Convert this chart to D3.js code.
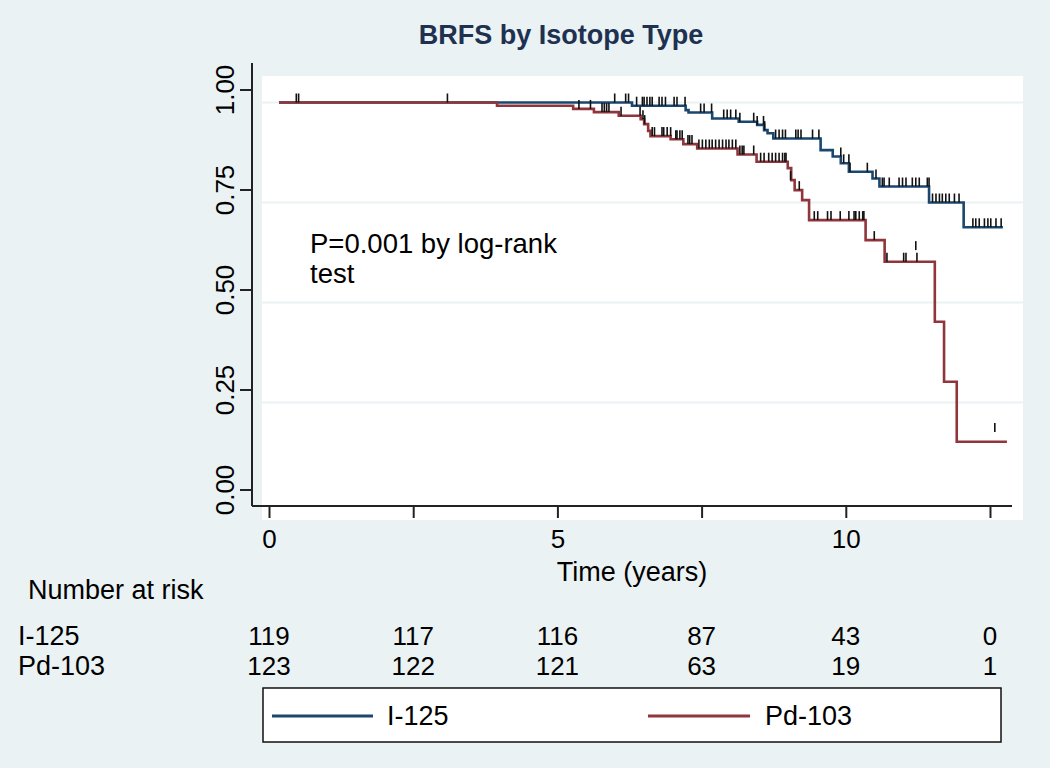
<!DOCTYPE html>
<html><head><meta charset="utf-8">
<script src="https://cdn.jsdelivr.net/npm/d3@7"></script>
<style>
html,body{margin:0;padding:0;background:#eaf2f3;}
text{font-family:"Liberation Sans",Arial,sans-serif;}
</style></head>
<body><svg id="c" width="1050" height="768"></svg>
<script>
// ---------- data ----------
const title = "BRFS by Isotope Type";
const xTicks = [0, 2.5, 5, 7.5, 10, 12.5];
const xTickLabels = ["0", "", "5", "", "10", ""];
const yTicks = [0, 0.25, 0.5, 0.75, 1];
const yTickLabels = ["0.00", "0.25", "0.50", "0.75", "1.00"];
const groups = ["I-125", "Pd-103"];
// step events: [time (years), survival after the drop]
const i125Steps = [[0,1],[6.12,0.992],[7.05,0.981],[7.10,0.975],[7.51,0.960],[7.97,0.952],[8.29,0.944],
  [8.41,0.931],[8.47,0.923],[8.57,0.910],[9.39,0.881],[9.60,0.865],[9.74,0.848],[9.88,0.827],
  [10.29,0.810],[10.41,0.790],[11.27,0.750],[11.87,0.688]];
const i125End = 12.55;
const pd103Steps = [[0,1],[3.78,0.992],[5.10,0.984],[5.46,0.976],[5.89,0.967],[6.27,0.958],[6.33,0.946],
  [6.40,0.929],[6.44,0.916],[6.79,0.908],[7.01,0.896],[7.25,0.885],[7.95,0.870],[8.28,0.852],
  [8.82,0.836],[8.88,0.806],[8.94,0.781],[9.07,0.756],[9.19,0.706],[10.17,0.656],[10.50,0.602],
  [11.37,0.452],[11.53,0.302],[11.75,0.152]];
const pd103End = 12.62;
// censoring marks: [time, survival level]
const i125Censor = [[5.82,1],[6.01,1],[6.06,1],
  [6.20,0.992],[6.30,0.992],[6.33,0.992],[6.38,0.992],[6.43,0.992],[6.47,0.992],[6.59,0.992],[6.64,0.992],[6.70,0.992],[6.85,0.992],[6.90,0.992],[7.04,0.992],
  [7.31,0.975],[7.37,0.975],[7.50,0.975],
  [7.71,0.960],[7.77,0.960],[7.83,0.960],[7.92,0.960],[7.99,0.952],[8.23,0.952],[8.29,0.944],[8.40,0.944],[8.42,0.931],
  [8.61,0.910],[8.67,0.910],[8.73,0.910],[8.78,0.910],[8.96,0.910],[9.00,0.910],[9.05,0.910],[9.25,0.910],[9.36,0.910],
  [9.74,0.865],[9.79,0.848],[9.88,0.848],[9.90,0.827],[10.20,0.827],[10.35,0.810],
  [10.46,0.790],[10.49,0.790],[10.58,0.790],[10.75,0.790],[10.81,0.790],[10.87,0.790],[10.98,0.790],[11.04,0.790],[11.10,0.790],[11.24,0.790],[11.27,0.790],
  [11.33,0.750],[11.39,0.750],[11.45,0.750],[11.50,0.750],[11.56,0.750],[11.62,0.750],[11.71,0.750],[11.79,0.750],
  [12.03,0.688],[12.08,0.688],[12.14,0.688],[12.23,0.688],[12.29,0.688],[12.34,0.688],[12.43,0.688],[12.52,0.688]];
const pd103Censor = [[0.30,1],[0.34,1],[2.92,1],
  [5.20,0.984],[5.40,0.984],[5.60,0.976],[5.64,0.976],[5.68,0.976],[5.72,0.976],[5.93,0.967],[6.26,0.967],[6.31,0.958],[6.34,0.946],
  [6.47,0.916],[6.51,0.916],[6.64,0.916],[6.67,0.916],[6.73,0.916],[6.79,0.916],
  [6.88,0.908],[6.90,0.908],[6.95,0.908],[6.99,0.908],[7.09,0.896],[7.12,0.896],[7.16,0.896],
  [7.28,0.885],[7.34,0.885],[7.40,0.885],[7.46,0.885],[7.51,0.885],[7.57,0.885],[7.63,0.885],[7.69,0.885],[7.75,0.885],[7.80,0.885],[7.86,0.885],[7.92,0.885],
  [7.99,0.870],[8.03,0.870],[8.06,0.870],[8.23,0.870],
  [8.35,0.852],[8.41,0.852],[8.49,0.852],[8.55,0.852],[8.61,0.852],[8.67,0.852],[8.73,0.852],[8.77,0.852],[8.79,0.852],
  [8.87,0.806],[9.02,0.781],
  [9.28,0.706],[9.34,0.706],[9.51,0.706],[9.57,0.706],[9.73,0.706],[9.88,0.706],[9.97,0.706],[10.00,0.706],[10.06,0.706],[10.12,0.706],[10.14,0.706],
  [10.32,0.656],[10.54,0.602],[10.83,0.602],[10.87,0.602],[11.06,0.602],[11.04,0.631],[12.41,0.176]];
const riskTimes = [0, 2.5, 5, 7.5, 10, 12.5];
const riskI125 = [119, 117, 116, 87, 43, 0];
const riskPd103 = [123, 122, 121, 63, 19, 1];
const pText = ["P=0.001 by log-rank", "test"];
const xLabel = "Time (years)";

// ---------- drawing ----------
const svg = d3.select("#c");
const colors = {"I-125":"#1a476f","Pd-103":"#90353b"};
const bg = "#eaf2f3";
svg.append("rect").attr("width",1050).attr("height",768).attr("fill",bg);

// axis scales
const xA = d3.scaleLinear().domain([0,12.5]).range([269,990]);
const yA = d3.scaleLinear().domain([0,1]).range([489.5,89.5]);
// plot-region scales (plot region is offset relative to axes in the reference)
const xP = d3.scaleLinear().domain([0,12.5]).range([279,1000]);
const yP = d3.scaleLinear().domain([0,1]).range([502.5,102.5]);

// white plot region
svg.append("rect").attr("x",262).attr("y",76).attr("width",761).attr("height",444).attr("fill","#fff");
// gridlines
svg.append("g").selectAll("line").data(yTicks.filter(d=>d>0)).join("line")
  .attr("x1",262).attr("x2",1023).attr("y1",d=>yP(d)).attr("y2",d=>yP(d))
  .attr("stroke",bg).attr("stroke-width",2);

// title
svg.append("text").attr("x",561).attr("y",44).attr("text-anchor","middle")
  .attr("font-weight","bold").attr("font-size",27).attr("fill","#1e3150").text(title);

// y axis
const yAxis = d3.axisLeft(yA).tickValues(yTicks).tickFormat((d,i)=>yTickLabels[i]).tickSize(12).tickPadding(4);
const gy = svg.append("g").attr("transform","translate(252,0)").call(yAxis);
gy.select(".domain").attr("d","M0,63V506").attr("stroke","#222").attr("stroke-width",2);
gy.selectAll(".tick line").attr("stroke","#222").attr("stroke-width",2);
gy.selectAll(".tick text").attr("font-size",26).attr("font-family","Liberation Sans, Arial, sans-serif")
  .attr("fill","#000").attr("text-anchor","middle").attr("x",0).attr("dy",0)
  .attr("transform","translate(-18,0) rotate(-90)").attr("y",0);

// x axis
const xAxis = d3.axisBottom(xA).tickValues(xTicks).tickFormat((d,i)=>xTickLabels[i]).tickSize(12).tickPadding(12);
const gx = svg.append("g").attr("transform","translate(0,506)").call(xAxis);
gx.select(".domain").attr("d","M252,0H1012").attr("stroke","#222").attr("stroke-width",2);
gx.selectAll(".tick line").attr("stroke","#222").attr("stroke-width",2);
gx.selectAll(".tick text").attr("font-size",26).attr("font-family","Liberation Sans, Arial, sans-serif").attr("fill","#000");

svg.append("text").attr("x",632).attr("y",581).attr("text-anchor","middle").attr("font-size",27).text(xLabel);

// curves
function stepPath(steps, end){
  const pts = steps.map(d=>[d[0],d[1]]);
  pts.push([end, steps[steps.length-1][1]]);
  return d3.line().x(d=>xP(d[0])).y(d=>yP(d[1])).curve(d3.curveStepAfter)(pts);
}
const series = [
  {name:"I-125", steps:i125Steps, end:i125End, censor:i125Censor},
  {name:"Pd-103", steps:pd103Steps, end:pd103End, censor:pd103Censor}
];
series.forEach(s=>{
  svg.append("path").attr("d",stepPath(s.steps,s.end)).attr("fill","none")
    .attr("stroke",colors[s.name]).attr("stroke-width",2.6);
});
series.forEach(s=>{
  svg.append("g").selectAll("line").data(s.censor).join("line")
    .attr("x1",d=>xP(d[0])).attr("x2",d=>xP(d[0]))
    .attr("y1",d=>yP(d[1])).attr("y2",d=>yP(d[1])-9)
    .attr("stroke","#111").attr("stroke-width",1.6);
});

// p-value text
svg.append("text").attr("x",310).attr("y",253).attr("font-size",27.5).text(pText[0]);
svg.append("text").attr("x",310).attr("y",283).attr("font-size",27.5).text(pText[1]);

// number at risk
svg.append("text").attr("x",28).attr("y",599).attr("font-size",27).text("Number at risk");
const rows = [{name:"I-125", vals:riskI125, y:645},{name:"Pd-103", vals:riskPd103, y:675}];
rows.forEach(r=>{
  svg.append("text").attr("x",18).attr("y",r.y).attr("font-size",27).text(r.name);
  svg.append("g").selectAll("text").data(r.vals).join("text")
    .attr("x",(d,i)=>xA(riskTimes[i])).attr("y",r.y).attr("text-anchor","middle")
    .attr("font-size",26).text(d=>d);
});

// legend
svg.append("rect").attr("x",263).attr("y",688).attr("width",738).attr("height",54)
  .attr("fill","#fff").attr("stroke","#111").attr("stroke-width",1.5);
const leg = [{name:"I-125", x1:272, x2:373, tx:387},{name:"Pd-103", x1:648, x2:750, tx:765}];
leg.forEach(l=>{
  svg.append("line").attr("x1",l.x1).attr("x2",l.x2).attr("y1",716).attr("y2",716)
    .attr("stroke",colors[l.name]).attr("stroke-width",3);
  svg.append("text").attr("x",l.tx).attr("y",725).attr("font-size",27).text(l.name);
});
</script></body></html>
